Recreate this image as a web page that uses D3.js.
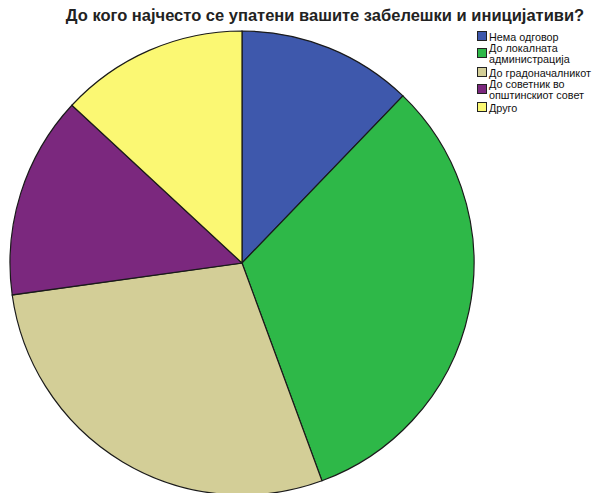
<!DOCTYPE html>
<html><head><meta charset="utf-8">
<script src="https://cdn.jsdelivr.net/npm/d3@7"></script>
<style>body{margin:0;background:#fff}svg{display:block}</style>
</head><body>
<svg id="c" width="596" height="493"></svg>
<script>
const categories = ["Нема одговор", "До локалната администрација", "До градоначалникот", "До советник во општинскиот совет", "Друго"];
const legendLines = [["Нема одговор"], ["До локалната", "администрација"], ["До градоначалникот"], ["До советник во", "општинскиот совет"], ["Друго"]];
const values = [12.2, 32.2, 28.4, 14.1, 13.1];
const colors = ["#3e58ac", "#2eb848", "#d3ce97", "#7b287e", "#fbf873"];
const title = "До кого најчесто се упатени вашите забелешки и иницијативи?";

const svg = d3.select("#c");
const cx = 242, cy = 263, r = 232;
const pie = d3.pie().sort(null).value(d => d)(values);
const arc = d3.arc().innerRadius(0).outerRadius(r);
svg.append("g").attr("transform", `translate(${cx},${cy})`)
  .selectAll("path").data(pie).join("path")
  .attr("d", arc).attr("fill", (d, i) => colors[i])
  .attr("stroke", "#1a1a1a").attr("stroke-width", 1.2);

svg.append("text").attr("x", 325).attr("y", 21).attr("text-anchor", "middle")
  .attr("font-family", "Liberation Sans, Arial, sans-serif").attr("font-weight", "bold")
  .attr("font-size", 16.5).attr("fill", "#222").text(title);

const lg = svg.append("g").attr("font-family", "Liberation Sans, Arial, sans-serif").attr("font-size", 10.8).attr("fill", "#111");
const rowY = [37, 54, 73, 90, 108];
legendLines.forEach((lines, i) => {
  const y = rowY[i];
  lg.append("rect").attr("x", 477.5).attr("y", y - 5.5).attr("width", 9).attr("height", 9)
    .attr("fill", colors[i]).attr("stroke", "#222").attr("stroke-width", 1);
  const off = lines.length === 1 ? 0 : -5.5;
  lines.forEach((t, j) => {
    lg.append("text").attr("x", 489).attr("y", y + off + j * 11 + 3.8).text(t);
  });
});
</script>
</body></html>
